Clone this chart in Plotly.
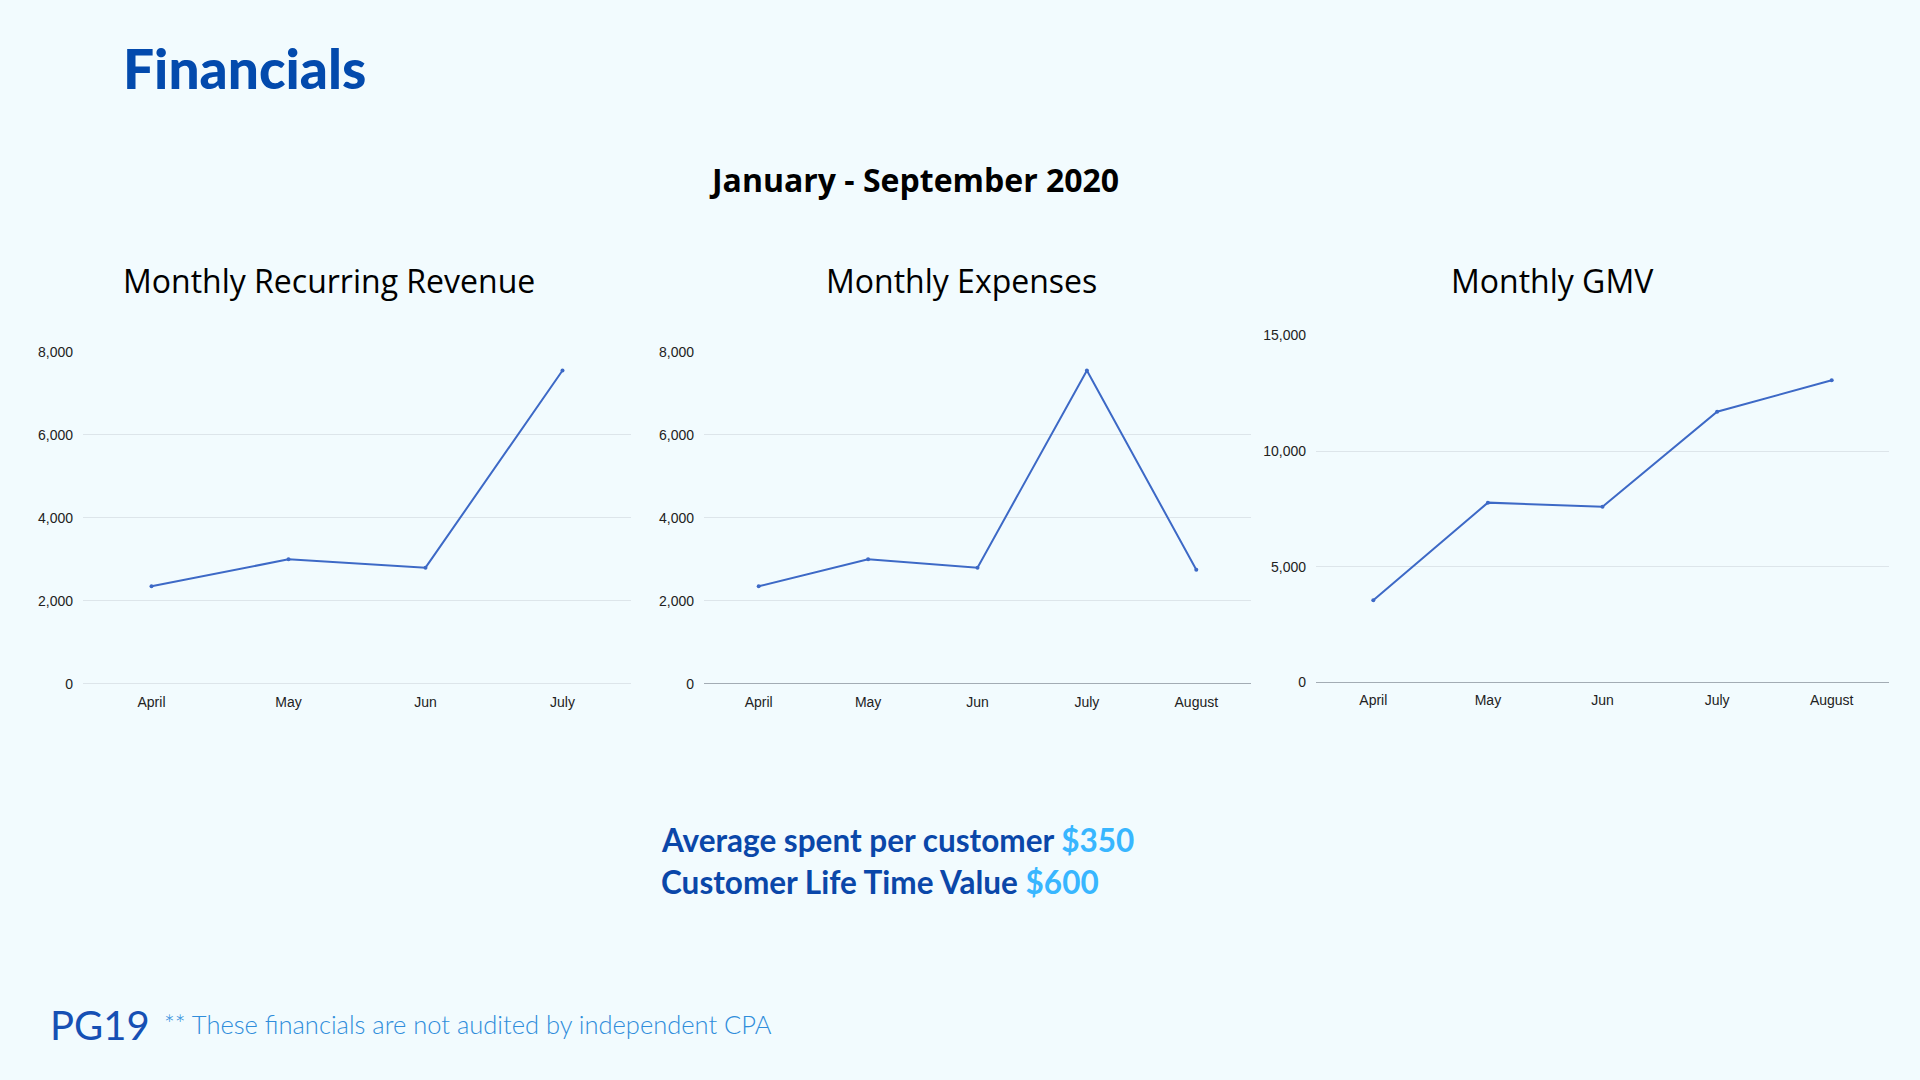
import plotly.graph_objects as go

W, H = 1920, 1080

# ---- data ----
mrr_months = ["April", "May", "Jun", "July"]
mrr_values = [2350, 3000, 2800, 7550]

exp_months = ["April", "May", "Jun", "July", "August"]
exp_values = [2350, 3000, 2800, 7550, 2750]

gmv_months = ["April", "May", "Jun", "July", "August"]
gmv_values = [3550, 7770, 7590, 11700, 13060]

mrr_ticks = [0, 2000, 4000, 6000, 8000]
exp_ticks = [0, 2000, 4000, 6000, 8000]
gmv_ticks = [0, 5000, 10000, 15000]

BG = "#f2fbfe"
LINE = "#3d69c6"
GRID = "#dde5ea"
AXIS = "#a3acb4"
TICKFONT = dict(family="Liberation Sans, Arial, sans-serif", size=14, color="#222222")


def px_x(p):
    return p / W


def px_y(p):
    return 1 - p / H


fig = go.Figure()

panels = [
    ("x", "y", mrr_months, mrr_values, mrr_ticks, (83, 631), (349, 686), GRID),
    ("x2", "y2", exp_months, exp_values, exp_ticks, (704, 1251), (349, 686), AXIS),
    ("x3", "y3", gmv_months, gmv_values, gmv_ticks, (1316, 1889), (332.3, 684.5), AXIS),
]

for i, (xa, ya, cats, vals, ticks, xd, yd, zc) in enumerate(panels):
    fig.add_trace(go.Scatter(
        x=cats, y=vals, xaxis=xa, yaxis=ya, mode="lines+markers",
        line=dict(color=LINE, width=2), marker=dict(color=LINE, size=4),
        showlegend=False, hoverinfo="x+y",
    ))
    suffix = "" if i == 0 else str(i + 1)
    fig.layout["xaxis" + suffix] = dict(
        domain=[px_x(xd[0]), px_x(xd[1])], anchor=ya,
        type="category", range=[-0.5, len(cats) - 0.5],
        showgrid=False, zeroline=False, showline=False,
        tickfont=TICKFONT, ticks="", ticklabelstandoff=8, fixedrange=True,
    )
    fig.layout["yaxis" + suffix] = dict(
        domain=[px_y(yd[1]), px_y(yd[0])], anchor=xa,
        range=[0, ticks[-1]], tickvals=ticks, tickformat=",d",
        showgrid=True, gridcolor=GRID, gridwidth=1,
        zeroline=True, zerolinecolor=zc, zerolinewidth=1,
        showline=False, tickfont=TICKFONT, ticks="", ticklabelstandoff=9,
        fixedrange=True,
    )

P = dict(xref="paper", yref="paper", showarrow=False)
ann = []
# Header
ann.append(dict(text="Financials", x=px_x(121), y=px_y(61), xanchor="left", yanchor="middle",
                font=dict(family="Lato Black, Lato", size=55, color="#034aad", weight=900), **P))
ann.append(dict(text="January - September 2020", x=px_x(913.5), y=px_y(174), xanchor="center", yanchor="middle",
                font=dict(family="Open Sans", size=32, color="#000000", weight=700), **P))
# Chart titles
for txt, cx in [("Monthly Recurring Revenue", 329), ("Monthly Expenses", 961), ("Monthly GMV", 1552.6)]:
    ann.append(dict(text=txt, x=px_x(cx), y=px_y(277), xanchor="center", yanchor="middle",
                    font=dict(family="Open Sans", size=32, color="#000000"), **P))
# KPI lines
ann.append(dict(text="Average spent per customer <span style='color:#38b6ff'>$350</span>",
                x=px_x(659), y=px_y(845), xanchor="left", yanchor="middle",
                font=dict(family="Lato", size=31.5, color="#0a47a9", weight=700), **P))
ann.append(dict(text="Customer Life Time Value <span style='color:#38b6ff'>$600</span>",
                x=px_x(659), y=px_y(887), xanchor="left", yanchor="middle",
                font=dict(family="Lato", size=31.5, color="#0a47a9", weight=700), **P))
# Footer
ann.append(dict(text="PG19", x=px_x(48), y=px_y(1032), xanchor="left", yanchor="middle",
                font=dict(family="Lato", size=40, color="#1650b4", weight=400), **P))
ann.append(dict(text="** These financials are not audited by independent CPA",
                x=px_x(162), y=px_y(1031), xanchor="left", yanchor="middle",
                font=dict(family="Lato", size=25.5, color="#2f8ddb", weight=300), **P))

fig.update_layout(
    width=W, height=H, autosize=False,
    margin=dict(l=0, r=0, t=0, b=0),
    paper_bgcolor=BG, plot_bgcolor=BG,
    annotations=ann,
)

fig.write_html("out.html", config={"displayModeBar": False},
               post_script="document.body.style.margin='0';document.body.style.overflow='hidden';")
